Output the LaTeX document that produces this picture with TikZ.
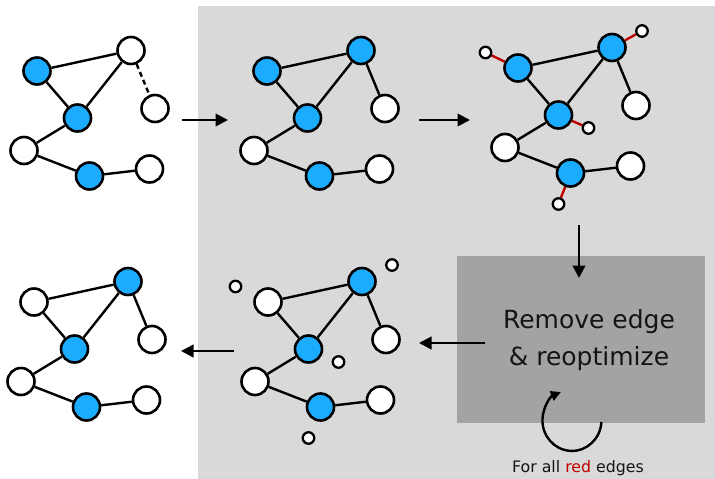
\documentclass[tikz,border=0pt]{standalone}
\usepackage{fontspec}
\setmainfont{DejaVu Sans}
\usetikzlibrary{arrows.meta}
\definecolor{bgGray}{RGB}{217,217,217}
\definecolor{boxGray}{RGB}{163,163,163}
\definecolor{nodeBlue}{RGB}{27,172,255}
\definecolor{edgeRed}{RGB}{192,0,0}
\definecolor{txt}{RGB}{20,20,20}
\pgfdeclarelayer{bglayer}
\pgfdeclarelayer{edgelayer}
\pgfsetlayers{bglayer,edgelayer,main}
\tikzset{
  bignode/.style={circle,draw=black,line width=2.6pt,minimum size=27pt,inner sep=0pt},
  smallnode/.style={circle,draw=black,fill=white,line width=2.3pt,minimum size=11.5pt,inner sep=0pt},
  graphedge/.style={draw=black,line width=2.4pt},
  rededge/.style={draw=edgeRed,line width=2.4pt},
  dashedge/.style={dash pattern=on 5pt off 3.5pt},
  flowarrow/.style={draw=black,line width=2.4pt,-{Triangle[length=12.5pt,width=12.5pt]}},
  looparrow/.style={draw=black,line width=2.4pt,-{Triangle[length=10pt,width=10pt]}},
}
% #1 prefix, #2 shift, #3 fill of A, #4 fill of B, #5 style of B--D
\newcommand{\gengraph}[5]{%
  \begin{scope}[shift={#2}]
    \node[bignode,fill=#3] (#1A) at (37,71) {};
    \node[bignode,fill=#4] (#1B) at (131,50.5) {};
    \node[bignode,fill=nodeBlue] (#1C) at (77.5,118) {};
    \node[bignode,fill=white] (#1D) at (155,108.5) {};
    \node[bignode,fill=white] (#1E) at (24,150.5) {};
    \node[bignode,fill=nodeBlue] (#1F) at (89.5,176) {};
    \node[bignode,fill=white] (#1G) at (149.5,169) {};
  \end{scope}
  \begin{pgfonlayer}{edgelayer}
    \draw[graphedge] (#1A) -- (#1B);
    \draw[graphedge] (#1A) -- (#1C);
    \draw[graphedge] (#1B) -- (#1C);
    \draw[graphedge,#5] (#1B) -- (#1D);
    \draw[graphedge] (#1C) -- (#1E);
    \draw[graphedge] (#1E) -- (#1F);
    \draw[graphedge] (#1F) -- (#1G);
  \end{pgfonlayer}
}
\newcommand{\smallnodes}[2]{%
  \begin{scope}[shift={#2}]
    \node[smallnode] (#1s1) at (4.5,55.5) {};
    \node[smallnode] (#1s2) at (161,34) {};
    \node[smallnode] (#1s3) at (107.5,131) {};
    \node[smallnode] (#1s4) at (77.5,207) {};
  \end{scope}
}
\begin{document}
\begin{tikzpicture}[x=1pt,y=-1pt]
\useasboundingbox (0,0) rectangle (715,479);
\begin{pgfonlayer}{bglayer}
  \fill[white] (0,0) rectangle (715,479);
  \fill[bgGray] (198,6) rectangle (715,479);
  \fill[boxGray] (457,256) rectangle (705,423);
\end{pgfonlayer}

% graph 1 (top left)
\gengraph{ga}{(0,0)}{nodeBlue}{white}{dashedge}
% graph 2 (top middle)
\gengraph{gb}{(230,0)}{nodeBlue}{nodeBlue}{}
% graph 3 (top right)
\gengraph{gc}{(481,-3)}{nodeBlue}{nodeBlue}{}
\smallnodes{gc}{(481,-3)}
\begin{pgfonlayer}{edgelayer}
  \draw[rededge] (gcs1) -- (gcA);
  \draw[rededge] (gcs2) -- (gcB);
  \draw[rededge] (gcs3) -- (gcC);
  \draw[rededge] (gcs4) -- (gcF);
\end{pgfonlayer}
% graph 4 (bottom middle)
\gengraph{gd}{(231,231)}{white}{nodeBlue}{}
\smallnodes{gd}{(231,231)}
% graph 5 (bottom left)
\gengraph{ge}{(-3,231)}{white}{nodeBlue}{}

% box text
\node[text=txt,align=center,inner sep=0pt,font=\fontsize{25}{37.4}\selectfont] (boxtext) at (589,340) {Remove edge\\\& reoptimize};
\node[text=txt,inner sep=0pt,anchor=base,font=\fontsize{15.8}{18}\selectfont] (looplabel) at (578,472.7) {For all \textcolor{edgeRed}{red} edges};

% flow arrows
\coordinate (a1s) at (182,120); \coordinate (a1e) at (228,120);
\coordinate (a2s) at (419,120); \coordinate (a2e) at (470,120);
\coordinate (a3s) at (579,225); \coordinate (a3e) at (579,278);
\coordinate (a4s) at (485,343); \coordinate (a4e) at (419,343);
\coordinate (a5s) at (234,351); \coordinate (a5e) at (181,351);
\draw[flowarrow] (a1s) -- (a1e);
\draw[flowarrow] (a2s) -- (a2e);
\draw[flowarrow] (a3s) -- (a3e);
\draw[flowarrow] (a4s) -- (a4e);
\draw[flowarrow] (a5s) -- (a5e);

% loop arrow
\coordinate (loopstart) at (601.4,422);
\draw[looparrow] (loopstart) arc[start angle=3,end angle=248,x radius=29.5,y radius=30.5];
\end{tikzpicture}
\end{document}
